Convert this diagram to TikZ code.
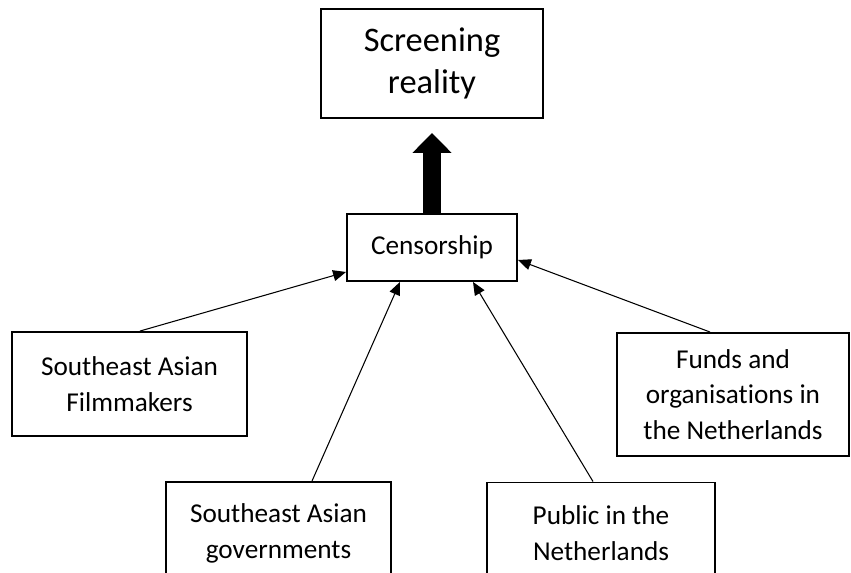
\documentclass[tikz,border=0pt]{standalone}
\usepackage{fontspec}
\setmainfont{Carlito}[Ligatures=NoCommon]
\usetikzlibrary{arrows.meta}
\begin{document}
\begin{tikzpicture}[x=0.02cm, y=0.02cm,
  box/.style={draw, line width=1.1pt, align=center, inner sep=0pt,
    font=\fontsize{15.5pt}{20.4pt}\selectfont},
  link/.style={line width=0.6pt, -{Triangle[length=0.26cm, width=0.22cm]}},
  bigarrow/.style={line width=0.36cm, -{Triangle[length=0.4cm, width=0.76cm]}}]
  \clip (0,0) rectangle (851,573);
  \node[box, minimum width=4.44cm, minimum height=2.18cm,
    font=\fontsize{19.6pt}{24.4pt}\selectfont] (screen) at (432,509.5) {Screening\\reality};
  \node[box, minimum width=3.4cm, minimum height=1.34cm] (censor) at (432,325.5) {Censorship};
  \node[box, minimum width=4.7cm, minimum height=2.08cm] (film) at (129.5,189) {Southeast Asian\\Filmmakers};
  \node[box, minimum width=4.5cm, minimum height=2.04cm] (gov) at (278.5,40) {Southeast Asian\\governments};
  \node[box, minimum width=4.56cm, minimum height=2.04cm] (public) at (601,39.5) {Public in the\\Netherlands};
  \node[box, minimum width=4.64cm, minimum height=2.46cm] (funds) at (733,178.5) {Funds and\\organisations in\\the Netherlands};
  \draw[bigarrow] (censor.north) -- ([yshift=-0.28cm]screen.south);
  \draw[link] ([xshift=0.21cm]film.north) -- ([yshift=-0.49cm]censor.west);
  \draw[link] ([xshift=0.67cm]gov.north) -- ([xshift=-0.64cm]censor.south);
  \draw[link] ([xshift=-0.16cm]public.north) -- ([xshift=0.82cm]censor.south);
  \draw[link] ([xshift=-0.46cm]funds.north) -- ([yshift=-0.25cm]censor.east);
\end{tikzpicture}
\end{document}
